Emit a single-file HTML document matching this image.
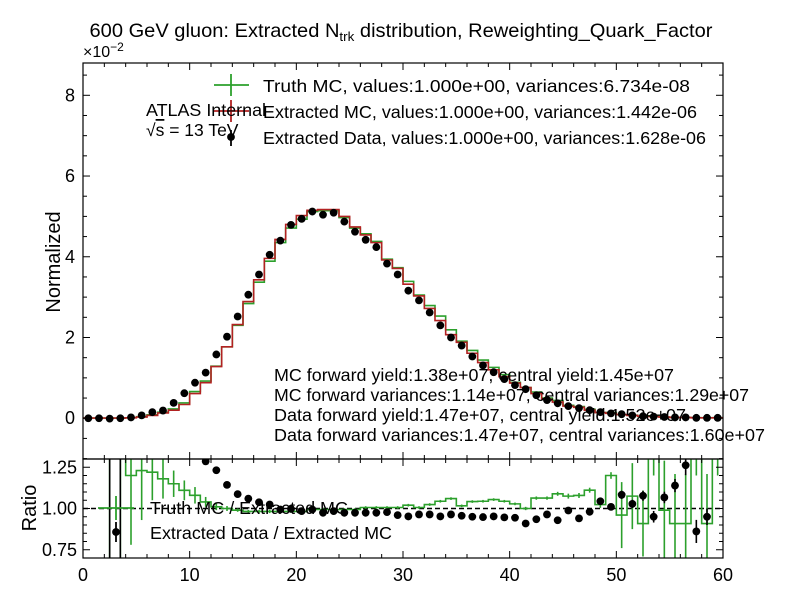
<!DOCTYPE html>
<html><head><meta charset="utf-8"><style>
html,body{margin:0;padding:0;background:#fff;overflow:hidden;width:799px;height:599px;}
svg{display:block;font-family:"Liberation Sans",Arial,sans-serif;}
</style></head><body>
<svg id="chart" width="799" height="599" viewBox="0 0 799 599" xmlns="http://www.w3.org/2000/svg">
<text x="401" y="37" font-size="19.5" text-anchor="middle" textLength="623" lengthAdjust="spacingAndGlyphs">600 GeV gluon: Extracted N<tspan font-size="13" dy="4">trk</tspan><tspan dy="-4"> distribution, Reweighting_Quark_Factor</tspan></text>
<text x="83" y="57" font-size="16">×10<tspan font-size="12" dy="-6">−2</tspan></text>
<text transform="translate(60,262) rotate(-90)" font-size="20" text-anchor="middle">Normalized</text>
<text transform="translate(36,508) rotate(-90)" font-size="20" text-anchor="middle">Ratio</text>
<g id="main"></g>
<g id="ratio"></g>
<g id="labels" font-size="17.5">
<text x="146" y="116" textLength="120" lengthAdjust="spacingAndGlyphs">ATLAS Internal</text>
<text x="146" y="136">√<tspan text-decoration="overline">s</tspan> = 13 TeV</text>
<text x="263" y="92" textLength="427" lengthAdjust="spacingAndGlyphs">Truth MC, values:1.000e+00, variances:6.734e-08</text>
<text x="263" y="118" textLength="434" lengthAdjust="spacingAndGlyphs">Extracted MC, values:1.000e+00, variances:1.442e-06</text>
<text x="263" y="144" textLength="443" lengthAdjust="spacingAndGlyphs">Extracted Data, values:1.000e+00, variances:1.628e-06</text>
<text x="274" y="381" textLength="400" lengthAdjust="spacingAndGlyphs">MC forward yield:1.38e+07, central yield:1.45e+07</text>
<text x="274" y="401" textLength="475" lengthAdjust="spacingAndGlyphs">MC forward variances:1.14e+07, central variances:1.29e+07</text>
<text x="274" y="421" textLength="412" lengthAdjust="spacingAndGlyphs">Data forward yield:1.47e+07, central yield:1.52e+07</text>
<text x="274" y="441" textLength="491" lengthAdjust="spacingAndGlyphs">Data forward variances:1.47e+07, central variances:1.60e+07</text>
<text x="150" y="514" textLength="198" lengthAdjust="spacingAndGlyphs">Truth MC / Extracted MC</text>
<text x="150" y="539" textLength="242" lengthAdjust="spacingAndGlyphs">Extracted Data / Extracted MC</text>
</g>
</svg>
<script>
const dataVals=[0,0,-0.01,0,0.02,0.07,0.15,0.19,0.38,0.62,0.88,1.13,1.58,2.02,2.52,3.06,3.56,4.05,4.40,4.79,4.94,5.12,5.04,5.09,4.87,4.62,4.42,4.24,3.83,3.56,3.16,2.92,2.62,2.30,2.00,1.80,1.53,1.31,1.14,0.97,0.82,0.72,0.57,0.45,0.37,0.30,0.25,0.20,0.15,0.12,0.10,0.07,0.05,0.04,0.03,0.02,0.02,0.01,0.01,0.01];
const mcVals=[0.003,0.004,0.004,0.005,0.01,0.03,0.07,0.13,0.20,0.34,0.61,0.88,1.28,1.77,2.32,2.89,3.43,3.96,4.43,4.80,5.02,5.15,5.17,5.17,5.00,4.74,4.54,4.35,3.92,3.71,3.32,3.03,2.72,2.42,2.07,1.88,1.61,1.38,1.20,1.03,0.87,0.76,0.61,0.47,0.40,0.30,0.27,0.20,0.14,0.12,0.09,0.07,0.05,0.04,0.03,0.02,0.02,0.01,0.01,0.01];
const truthVals=[0.003,0.004,0.004,0.005,0.012,0.037,0.085,0.15,0.23,0.38,0.66,0.92,1.29,1.77,2.30,2.84,3.37,3.89,4.35,4.71,4.93,5.12,5.14,5.14,4.97,4.71,4.57,4.38,3.94,3.73,3.39,3.05,2.79,2.53,2.19,1.91,1.68,1.44,1.26,1.08,0.89,0.76,0.65,0.50,0.44,0.32,0.29,0.22,0.14,0.14,0.086,0.075,0.045,0.06,0.03,0.018,0.018,0.015,0.009,0.015];
const ratioData=[null,null,2.0,2.0,1.9,1.8,1.7,1.6,1.55,1.5,1.44,1.286,1.232,1.143,1.087,1.06,1.038,1.024,0.994,0.998,0.984,0.994,0.974,0.984,0.974,0.974,0.974,0.974,0.978,0.96,0.952,0.964,0.964,0.952,0.964,0.956,0.95,0.948,0.952,0.946,0.944,0.909,0.935,0.964,0.929,0.988,0.94,0.98,1.044,1.01,1.083,1.028,1.077,0.95,1.067,1.139,1.262,0.861,0.95,null];
const ratioDataErr=[0,0,2,2,0.3,0.2,0.1,0.08,0.05,0.04,0.03,0.02,0.015,0.01,0.01,0.008,0.008,0.008,0.008,0.008,0.008,0.008,0.008,0.008,0.008,0.008,0.008,0.008,0.008,0.008,0.008,0.008,0.008,0.008,0.008,0.008,0.008,0.008,0.008,0.008,0.008,0.01,0.01,0.01,0.012,0.012,0.015,0.015,0.02,0.02,0.025,0.025,0.03,0.035,0.035,0.04,0.06,0.07,0.05,0];
const ratioTruth=[null,null,1.6,1.6,1.2,1.23,1.22,1.18,1.15,1.11,1.08,1.04,1.01,1.0,0.99,0.982,0.982,0.982,0.982,0.982,0.982,0.994,0.994,0.994,0.994,0.994,1.006,1.006,1.006,1.006,1.02,1.006,1.024,1.044,1.06,1.016,1.042,1.044,1.054,1.044,1.028,1.0,1.063,1.063,1.089,1.075,1.079,1.111,1.024,1.2,0.96,1.075,0.909,1.5,0.99,0.909,0.909,1.5,0.909,1.5];
const ratioTruthErr=[0,0,0.9,0.9,0.42,0.3,0.17,0.12,0.08,0.06,0.05,0.03,0.02,0.015,0.01,0.01,0.01,0.01,0.008,0.008,0.008,0.008,0.008,0.008,0.008,0.008,0.008,0.008,0.008,0.008,0.008,0.008,0.008,0.008,0.008,0.008,0.008,0.008,0.008,0.008,0.008,0.01,0.01,0.01,0.012,0.015,0.015,0.015,0.02,0.02,0.2,0.2,0.2,0.3,0.3,0.3,0.3,0.3,0.3,0.3];
const xTicks=[0,10,20,30,40,50,60];
const yTicks=[0,2,4,6,8];
const rTicks=[0.75,1.00,1.25];

const NS="http://www.w3.org/2000/svg";
const X0=83,X1=723,MT=63,MB=459,RT=459,RB=558;
const xs=v=>X0+(v-0)/60*(X1-X0);
const ymin=-1.01,ymax=8.8;
const ys=v=>MB-(v-ymin)/(ymax-ymin)*(MB-MT);
const rmin=0.7,rmax=1.3;
const rs=v=>RB-(v-rmin)/(rmax-rmin)*(RB-RT);
const clampR=y=>Math.max(RT,Math.min(RB,y));
function mk(tag,attrs,parent){const e=document.createElementNS(NS,tag);for(const k in attrs)e.setAttribute(k,attrs[k]);parent.appendChild(e);return e;}
const main=document.getElementById('main');
const ratio=document.getElementById('ratio');

const defs=mk('defs',{},document.getElementById('chart'));
const c1=mk('clipPath',{id:'cm'},defs);mk('rect',{x:X0,y:MT,width:X1-X0,height:MB-MT},c1);
const c2=mk('clipPath',{id:'cr'},defs);mk('rect',{x:X0,y:RT,width:X1-X0,height:RB-RT},c2);

function stepPath(vals,sc){let d='';for(let i=0;i<vals.length;i++){const y=sc(vals[i]);d+=(i===0?'M':'L')+xs(i)+','+y+'L'+xs(i+1)+','+y;}return d;}

const gm=mk('g',{'clip-path':'url(#cm)'},main);
const truthLine=mk('path',{d:stepPath(truthVals,ys),fill:'none',stroke:'#2ca02c','stroke-width':1.6},gm);


const mcLine=mk('path',{d:stepPath(mcVals,ys),fill:'none',stroke:'#b22222','stroke-width':1.6},gm);


for(let i=0;i<dataVals.length;i++){
  const p=mk('circle',{cx:xs(i+0.5),cy:ys(dataVals[i]),r:3.9,fill:'#000'},gm);
  
  
}

const gr=mk('g',{'clip-path':'url(#cr)'},ratio);
mk('line',{x1:X0,x2:X1,y1:rs(1),y2:rs(1),stroke:'#000','stroke-width':1.5,'stroke-dasharray':'5,3'},gr);
let d='';let started=false;
for(let i=0;i<ratioTruth.length;i++){
  if(ratioTruth[i]===null){started=false;continue;}
  const y=clampR(rs(ratioTruth[i]))+(rs(ratioTruth[i])<RT?-2:0);
  d+=(started?'L':'M')+xs(i)+','+y+'L'+xs(i+1)+','+y;started=true;
}
const rtl=mk('path',{d:d,fill:'none',stroke:'#2ca02c','stroke-width':1.6},gr);


for(let i=0;i<ratioTruth.length;i++){
  if(ratioTruth[i]===null)continue;
  const e=mk('line',{x1:xs(i+0.5),x2:xs(i+0.5),y1:clampR(rs(ratioTruth[i]-ratioTruthErr[i])),y2:clampR(rs(ratioTruth[i]+ratioTruthErr[i])),stroke:'#2ca02c','stroke-width':1.6},gr);
  
  
}
for(let i=0;i<ratioData.length;i++){
  if(ratioData[i]===null)continue;
  const e=mk('line',{x1:xs(i+0.5),x2:xs(i+0.5),y1:clampR(rs(ratioData[i]-ratioDataErr[i])),y2:clampR(rs(ratioData[i]+ratioDataErr[i])),stroke:'#000','stroke-width':1.6},gr);
  
  
  const cy=rs(ratioData[i]);
  if(cy<RT-5||cy>RB+5)continue;
  const p=mk('circle',{cx:xs(i+0.5),cy:cy,r:3.9,fill:'#000'},gr);
  
  
}

const lg=mk('g',{},main);
mk('line',{x1:214,x2:249,y1:85,y2:85,stroke:'#2ca02c','stroke-width':1.8},lg);
mk('line',{x1:231,x2:231,y1:74,y2:96,stroke:'#2ca02c','stroke-width':1.8},lg);
mk('line',{x1:214,x2:249,y1:111,y2:111,stroke:'#b22222','stroke-width':1.8},lg);
mk('line',{x1:231,x2:231,y1:100,y2:122,stroke:'#b22222','stroke-width':1.8},lg);
mk('line',{x1:231,x2:231,y1:130,y2:146,stroke:'#000','stroke-width':1.8},lg);
mk('circle',{cx:231,cy:137,r:3.9,fill:'#000'},lg);


const rl=mk('g',{},ratio);
mk('line',{x1:98,x2:134,y1:508,y2:508,stroke:'#2ca02c','stroke-width':1.8},rl);
mk('line',{x1:116,x2:116,y1:496,y2:520,stroke:'#2ca02c','stroke-width':1.8},rl);
mk('line',{x1:116,x2:116,y1:522,y2:542,stroke:'#000','stroke-width':1.8},rl);
mk('circle',{cx:116,cy:532,r:3.9,fill:'#000'},rl);



function frame(parent,top,bot,name){
  const r=mk('rect',{x:X0,y:top,width:X1-X0,height:bot-top,fill:'none',stroke:'#000','stroke-width':1.2},parent);
  
  
  for(let v=0;v<=60;v+=2){
    const major=v%10===0;const L=major?7:4;const x=xs(v);
    mk('line',{x1:x,x2:x,y1:bot,y2:bot-L,stroke:'#000','stroke-width':1},parent);
    mk('line',{x1:x,x2:x,y1:top,y2:top+L,stroke:'#000','stroke-width':1},parent);
  }
}
frame(main,MT,MB,'main-plot-frame');
frame(ratio,RT,RB,'ratio-plot-frame');
for(let v=-1;v<=8.8;v+=0.5){
  const major=Math.abs(v%2)<1e-6;const L=major?7:4;const y=ys(v);
  mk('line',{x1:X0,x2:X0+L,y1:y,y2:y,stroke:'#000','stroke-width':1},main);
  mk('line',{x1:X1,x2:X1-L,y1:y,y2:y,stroke:'#000','stroke-width':1},main);
}
for(let k=15;k<=25;k++){
  const v=k*0.05;if(v<=rmin||v>=rmax)continue;
  const major=k%5===0;const L=major?7:4;const y=rs(v);
  mk('line',{x1:X0,x2:X0+L,y1:y,y2:y,stroke:'#000','stroke-width':1},ratio);
  mk('line',{x1:X1,x2:X1-L,y1:y,y2:y,stroke:'#000','stroke-width':1},ratio);
}
for(const t of yTicks){
  const e=mk('text',{x:X0-8,y:ys(t)+6,'font-size':18,'text-anchor':'end'},main);
  e.textContent=t;
  
  
}
for(const t of rTicks){
  const e=mk('text',{x:X0-6,y:rs(t)+6,'font-size':18,'text-anchor':'end'},ratio);
  e.textContent=t.toFixed(2);
  
  
}
for(const t of xTicks){
  const e=mk('text',{x:xs(t),y:581,'font-size':18,'text-anchor':'middle'},ratio);
  e.textContent=t;
  
  
}
</script>
</body></html>
